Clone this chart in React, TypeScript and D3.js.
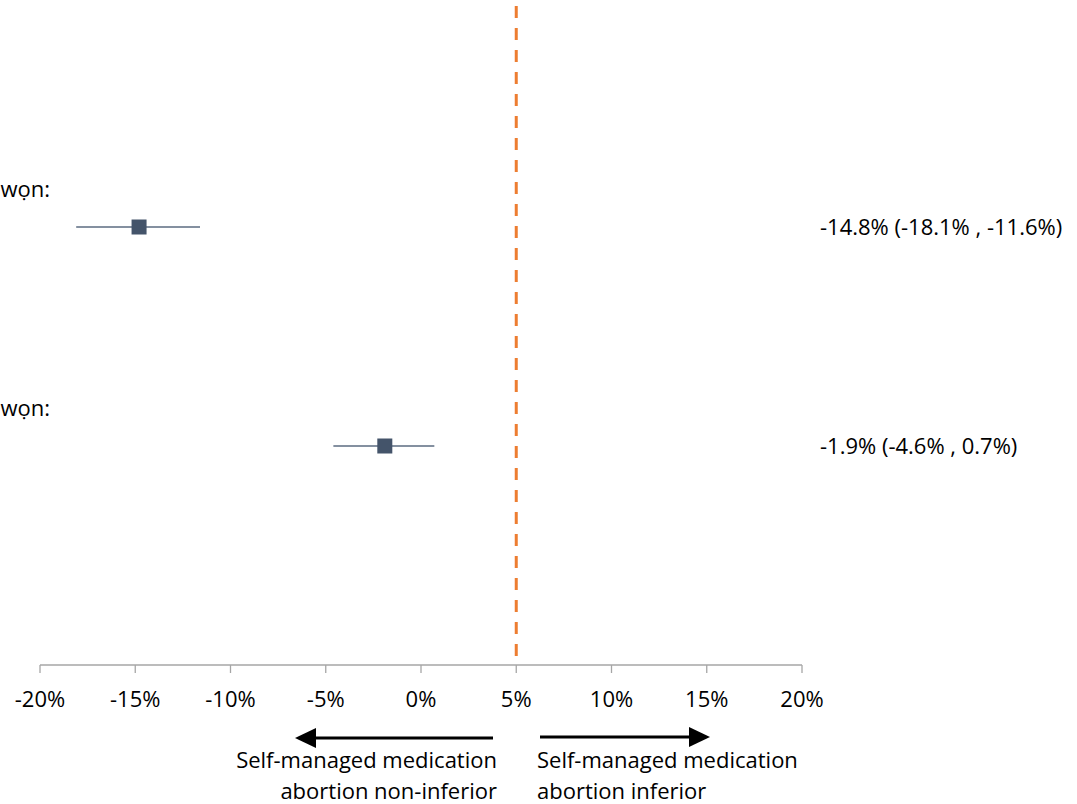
import React from "react";
import * as d3 from "d3";

const rowLabels = ["wọn:", "wọn:"];
const estimates = [-14.8, -1.9];
const lowerCI = [-18.1, -4.6];
const upperCI = [-11.6, 0.7];
const ciText = ["-14.8% (-18.1% , -11.6%)", "-1.9% (-4.6% , 0.7%)"];
const tickValues = [-20, -15, -10, -5, 0, 5, 10, 15, 20];
const margin = 5;
const leftNote = ["Self-managed medication", "abortion non-inferior"];
const rightNote = ["Self-managed medication", "abortion inferior"];

const W = 1077;
const H = 804;
const FONT = "'Open Sans', Lato, sans-serif";
const FS = 22;

function Arrow({ from, to, y }: { from: number; to: number; y: number }) {
  const dir = Math.sign(to - from);
  const headLen = 21;
  const headHalf = 10;
  const base = to - dir * headLen;
  return (
    <g>
      <line x1={from} x2={base + dir * 1} y1={y} y2={y} stroke="#000" strokeWidth={3} />
      <path d={`M${to},${y} L${base},${y - headHalf} L${base},${y + headHalf} Z`} fill="#000" />
    </g>
  );
}

export default function App() {
  const x = d3.scaleLinear().domain([-20, 20]).range([40, 802]);
  const y = d3.scaleLinear().domain([0, 1]).range([227, 446]);
  const axisY = 665;
  const sq = 15;
  return (
    <svg width={W} height={H} style={{ position: "absolute", left: 0, top: 0, background: "#fff" }}>
      {/* axis */}
      <line x1={x(-20)} x2={x(20)} y1={axisY} y2={axisY} stroke="#a6a6a6" strokeWidth={1.3} />
      {tickValues.map((t) => (
        <g key={t}>
          <line x1={x(t)} x2={x(t)} y1={axisY} y2={axisY + 8} stroke="#a6a6a6" strokeWidth={1.3} />
          <text x={x(t)} y={707} textAnchor="middle" fontFamily={FONT} fontSize={FS} fill="#000">
            {`${t}%`}
          </text>
        </g>
      ))}
      {/* margin line */}
      <line x1={x(margin)} x2={x(margin)} y1={6} y2={axisY} stroke="#ed7d31" strokeWidth={3} strokeDasharray="12 10" />
      {/* rows */}
      {estimates.map((e, i) => (
        <g key={i}>
          <text x={50} y={y(i) - 30} textAnchor="end" fontFamily={FONT} fontSize={FS} fill="#000">
            {rowLabels[i]}
          </text>
          <line x1={x(lowerCI[i])} x2={x(upperCI[i])} y1={y(i)} y2={y(i)} stroke="#5b6b80" strokeWidth={1.3} />
          <rect x={x(e) - sq / 2} y={y(i) - sq / 2} width={sq} height={sq} fill="#44546a" />
          <text x={820} y={y(i) + 8} fontFamily={FONT} fontSize={FS} fill="#000">
            {ciText[i]}
          </text>
        </g>
      ))}
      {/* arrows */}
      <Arrow from={493} to={295} y={738} />
      <Arrow from={540} to={710} y={737} />
      {leftNote.map((s, i) => (
        <text key={"l" + i} x={497} y={768 + i * 31} textAnchor="end" fontFamily={FONT} fontSize={FS} fill="#000">
          {s}
        </text>
      ))}
      {rightNote.map((s, i) => (
        <text key={"r" + i} x={537} y={768 + i * 31} fontFamily={FONT} fontSize={FS} fill="#000">
          {s}
        </text>
      ))}
    </svg>
  );
}
